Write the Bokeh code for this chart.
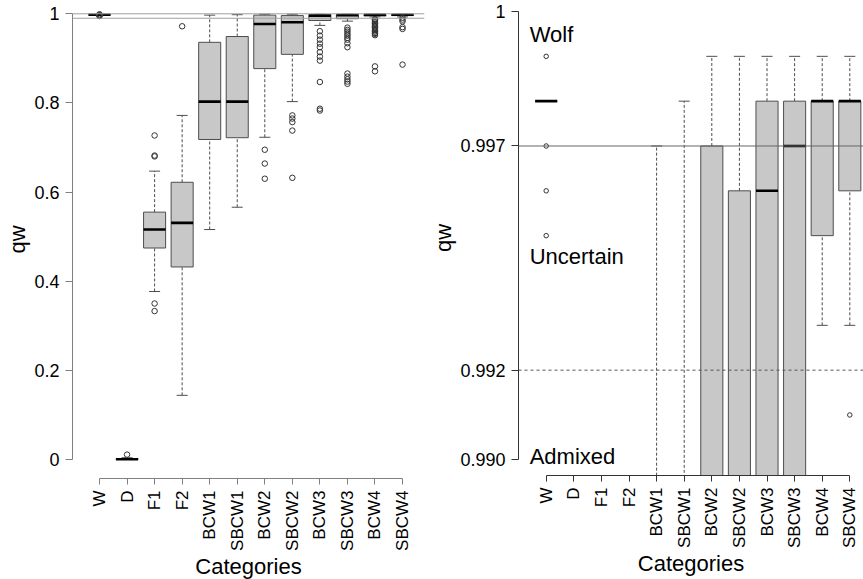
import math
from bokeh.plotting import figure
from bokeh.models import FixedTicker, Span, Range1d
from bokeh.layouts import row
from bokeh.embed import file_html
from bokeh.resources import INLINE
from bokeh.core.properties import value

# ---------------- data ----------------
categories = ["W", "D", "F1", "F2", "BCW1", "SBCW1", "BCW2", "SBCW2",
              "BCW3", "SBCW3", "BCW4", "SBCW4"]
whisker_low = [0.998, 0.000, 0.377, 0.144, 0.516, 0.566, 0.723, 0.803, 0.974, 0.9835, 0.993, 0.993]
q1 = [0.998, 0.000, 0.4745, 0.432, 0.718, 0.722, 0.877, 0.909, 0.985, 0.989, 0.995, 0.996]
median = [0.998, 0.0005, 0.516, 0.531, 0.803, 0.803, 0.977, 0.981, 0.996, 0.997, 0.998, 0.998]
q3 = [0.998, 0.002, 0.555, 0.622, 0.936, 0.949, 0.997, 0.996, 0.998, 0.998, 0.998, 0.998]
whisker_high = [0.998, 0.004, 0.647, 0.772, 0.997, 0.998, 0.999, 0.999, 0.999, 0.999, 0.999, 0.999]

out_W = [0.999, 0.997, 0.996, 0.995]
out_D = [0.011]
out_F1 = [0.727, 0.682, 0.680, 0.350, 0.333]
out_F2 = [0.972]
out_BCW1 = []
out_SBCW1 = []
out_BCW2 = [0.695, 0.664, 0.630]
out_SBCW2 = [0.772, 0.765, 0.757, 0.738, 0.632]
out_BCW3 = [0.961, 0.951, 0.942, 0.933, 0.925, 0.914, 0.904, 0.895, 0.847, 0.787, 0.783]
out_SBCW3 = [0.969, 0.964, 0.960, 0.955, 0.951, 0.946, 0.942, 0.934, 0.925,
             0.866, 0.859, 0.853, 0.848, 0.843]
out_BCW4 = [0.988, 0.987, 0.984, 0.981, 0.978, 0.975, 0.972, 0.969, 0.966, 0.963,
            0.960, 0.957, 0.955, 0.952, 0.882, 0.871]
out_SBCW4 = [0.991, 0.987, 0.983, 0.970, 0.966, 0.886]
outliers = [out_W, out_D, out_F1, out_F2, out_BCW1, out_SBCW1, out_BCW2, out_SBCW2,
            out_BCW3, out_SBCW3, out_BCW4, out_SBCW4]

left_yticks = [0, 0.2, 0.4, 0.6, 0.8, 1]
left_ylabels = ["0", "0.2", "0.4", "0.6", "0.8", "1"]
right_yticks = [0.990, 0.992, 0.997, 1.0]
right_ylabels = ["0.990", "0.992", "0.997", "1"]
left_hlines = [1.0, 0.99]
right_hline_solid = 0.997
right_hline_dashed = 0.992
zone_labels = ["Wolf", "Uncertain", "Admixed"]
zone_label_y = [0.99949, 0.99453, 0.99007]

FONT = "Liberation Sans"
BOX_FILL = "#c8c8c8"
BOX_LINE = "#4d4d4d"
BOXW = 0.8


def panel(x_rng, y_rng, yticks, ylabels, ybounds, frame_w, frame_h, border_l, border_r,
          axis_color, out_size, ylabel_standoff):
    p = figure(output_backend="svg", toolbar_location=None,
               frame_width=frame_w, frame_height=frame_h,
               x_range=Range1d(*x_rng), y_range=Range1d(*y_rng),
               min_border_left=border_l, min_border_right=border_r,
               min_border_top=0, min_border_bottom=0,
               background_fill_color="white", border_fill_color="white")
    p.outline_line_color = None
    p.xgrid.visible = False
    p.ygrid.visible = False

    xs = list(range(1, len(categories) + 1))
    # boxes
    p.quad(left=[x - BOXW / 2 for x in xs], right=[x + BOXW / 2 for x in xs],
           bottom=q1, top=q3, fill_color=BOX_FILL, line_color=BOX_LINE, line_width=1)
    # whiskers (dashed)
    p.segment(x0=xs, y0=q3, x1=xs, y1=whisker_high, line_color=BOX_LINE,
              line_width=1, line_dash="3 2")
    p.segment(x0=xs, y0=whisker_low, x1=xs, y1=q1, line_color=BOX_LINE,
              line_width=1, line_dash="3 2")
    # staples
    p.segment(x0=[x - BOXW / 4 for x in xs], y0=whisker_high,
              x1=[x + BOXW / 4 for x in xs], y1=whisker_high,
              line_color=BOX_LINE, line_width=1)
    p.segment(x0=[x - BOXW / 4 for x in xs], y0=whisker_low,
              x1=[x + BOXW / 4 for x in xs], y1=whisker_low,
              line_color=BOX_LINE, line_width=1)
    # medians
    p.segment(x0=[x - BOXW / 2 for x in xs], y0=median,
              x1=[x + BOXW / 2 for x in xs], y1=median,
              line_color="black", line_width=2.6, line_cap="butt")
    # outliers
    ox, oy = [], []
    for x, vals in zip(xs, outliers):
        for v in vals:
            ox.append(x)
            oy.append(v)
    p.scatter(ox, oy, marker="circle", size=out_size, fill_color=None,
              line_color="#333333", line_width=1)

    # axes
    xa = p.xaxis[0]
    xa.ticker = FixedTicker(ticks=xs)
    xa.major_label_overrides = {x: c for x, c in zip(xs, categories)}
    xa.major_label_orientation = math.pi / 2
    xa.bounds = (1, len(categories))
    ya = p.yaxis[0]
    ya.ticker = FixedTicker(ticks=yticks)
    ya.major_label_overrides = {t: l for t, l in zip(yticks, ylabels)}
    ya.bounds = ybounds
    for ax in (xa, ya):
        ax.axis_line_color = axis_color
        ax.major_tick_line_color = axis_color
        ax.major_tick_out = 7
        ax.major_tick_in = 0
        ax.minor_tick_out = 0
        ax.minor_tick_in = 0
        ax.major_label_text_font = FONT
        ax.major_label_text_color = "black"
        ax.axis_label_text_font = FONT
        ax.axis_label_text_font_style = "normal"
        ax.axis_label_text_font_size = "22px"
        ax.axis_label_text_color = "black"
    xa.major_tick_out = 6
    xa.major_label_text_font_size = "17px"
    ya.major_label_text_font_size = "18px"
    xa.major_label_standoff = 6
    ya.major_label_standoff = 6
    xa.axis_label = "Categories"
    ya.axis_label = "qw"
    xa.axis_label_standoff = 0
    ya.axis_label_standoff = ylabel_standoff
    return p


# left panel: full range
p1 = panel((0.0198, 12.798), (-0.04263, 1.02984), left_yticks, left_ylabels, (0, 1),
           352, 478, 72, 2, "#808080", 5.5, 1)
for h in left_hlines:
    p1.add_layout(Span(location=h, dimension="width", line_color="#a0a0a0", line_width=1))

# right panel: zoom 0.990 - 1
p2 = panel((-0.0036, 12.496), (0.98965, 1.0002454), right_yticks, right_ylabels,
           (0.99, 1.0), 345, 475, 92, 0, "#333333", 4.5, 1)
p2.add_layout(Span(location=right_hline_solid, dimension="width",
                   line_color="#666666", line_width=1))
p2.add_layout(Span(location=right_hline_dashed, dimension="width",
                   line_color="#555555", line_width=1, line_dash="3 3"))
p2.text(x=[0.4] * len(zone_labels), y=zone_label_y, text=zone_labels,
        text_font=value(FONT), text_font_size="22px", text_color="black",
        text_align="left", text_baseline="alphabetic")

layout = row(p1, p2)
open("out.html", "w").write(file_html(layout, INLINE))
